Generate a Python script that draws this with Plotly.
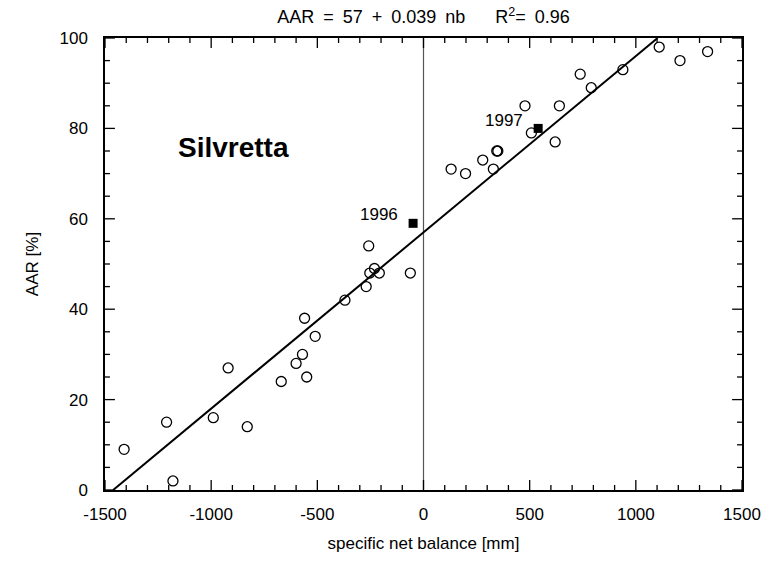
import plotly.graph_objects as go

# Observed data (specific net balance [mm], AAR [%])
balance = [-1410, -1210, -1180, -990, -920, -830, -670, -600, -570, -560, -550,
           -510, -370, -270, -253, -231, -208, -62, -258,
           130, 198, 279, 329, 345, 350, 478, 508, 620, 640, 738, 790, 939,
           1110, 1208, 1338]
aar = [9, 15, 2, 16, 27, 14, 24, 28, 30, 38, 25,
       34, 42, 45, 48, 49, 48, 48, 54,
       71, 70, 73, 71, 75, 75, 85, 79, 77, 85, 92, 89, 93,
       98, 95, 97]

# Highlighted years
year_labels = ["1996", "1997"]
year_balance = [-49, 540]
year_aar = [59, 80]

# Regression
intercept = 57
slope = 0.039
fit_aar = [0, 100]
fit_balance = [(a - intercept) / slope for a in fit_aar]

# Axis ranges and tick labels
x_range = [-1500, 1500]
y_range = [0, 100]
x_tickvals = [-1500, -1000, -500, 0, 500, 1000, 1500]
x_ticktext = ["-1500", "-1000", "-500", "0", "500", "1000", "1500"]
y_tickvals = [0, 20, 40, 60, 80, 100]
y_ticktext = ["0", "20", "40", "60", "80", "100"]
x_minor_step = 100
y_minor_step = 5

font_family = "Liberation Sans, Arial, sans-serif"

W, H = 773, 562
margin = dict(l=105, r=25, t=38, b=71)
plot_w = W - margin["l"] - margin["r"]
plot_h = H - margin["t"] - margin["b"]

fig = go.Figure()

fig.add_trace(go.Scatter(
    x=[0, 0], y=y_range, mode="lines",
    line=dict(color="#555555", width=1.2), showlegend=False, hoverinfo="skip"))

fig.add_trace(go.Scatter(
    x=fit_balance, y=fit_aar, mode="lines",
    line=dict(color="black", width=2), showlegend=False))

fig.add_trace(go.Scatter(
    x=balance, y=aar, mode="markers",
    marker=dict(symbol="circle-open", size=10, color="black",
                line=dict(color="black", width=1.3)),
    showlegend=False))

fig.add_trace(go.Scatter(
    x=year_balance, y=year_aar, mode="markers",
    marker=dict(symbol="square", size=9, color="black"),
    showlegend=False))

# Inward tick marks on all four sides, one trace per tick built from the tick arrays
x_span = x_range[1] - x_range[0]
y_span = y_range[1] - y_range[0]
x_minor = [v for v in range(x_range[0], x_range[1] + 1, x_minor_step) if v not in x_tickvals]
y_minor = [v for v in range(y_range[0], y_range[1] + 1, y_minor_step) if v not in y_tickvals]
tick_style = dict(mode="lines", line=dict(color="black", width=1.3),
                  showlegend=False, hoverinfo="skip", cliponaxis=False)
for vals, ln in ((x_tickvals, 10), (x_minor, 5)):
    d = ln * y_span / plot_h
    for v in vals:
        fig.add_trace(go.Scatter(x=[v, v], y=[y_range[0], y_range[0] + d], **tick_style))
        fig.add_trace(go.Scatter(x=[v, v], y=[y_range[1], y_range[1] - d], **tick_style))
for vals, ln in ((y_tickvals, 10), (y_minor, 5)):
    d = ln * x_span / plot_w
    for v in vals:
        fig.add_trace(go.Scatter(x=[x_range[0], x_range[0] + d], y=[v, v], **tick_style))
        fig.add_trace(go.Scatter(x=[x_range[1], x_range[1] - d], y=[v, v], **tick_style))

label_pos = [(-209, 61.0), (379, 81.8)]
for txt, (lx, ly) in zip(year_labels, label_pos):
    fig.add_annotation(x=lx, y=ly, text=txt, showarrow=False,
                       font=dict(size=17, color="black", family=font_family),
                       xanchor="center", yanchor="middle")

fig.add_annotation(x=-895, y=75.7, text="<b>Silvretta</b>", showarrow=False,
                   font=dict(size=28, color="black", family=font_family),
                   xanchor="center", yanchor="middle")

main_common = dict(
    showline=True, linecolor="black", linewidth=1.5, mirror=True,
    ticks="", showgrid=False, zeroline=False,
    tickfont=dict(size=17, color="black", family=font_family),
)

sp = "\u2002"
title_text = ("AAR" + sp + "=" + sp + "57" + sp + "+" + sp + "0.039" + sp + "nb"
              + "\u00a0" * 6 + "R<sup>2</sup>=" + sp + "0.96")

fig.update_layout(
    width=W, height=H,
    margin=dict(margin, pad=0),
    paper_bgcolor="white", plot_bgcolor="white",
    xaxis=dict(range=x_range, tickmode="array", tickvals=x_tickvals,
               ticktext=x_ticktext, ticklabelstandoff=8,
               title=dict(text="specific net balance [mm]", standoff=14,
                          font=dict(size=17, color="black", family=font_family)),
               **main_common),
    yaxis=dict(range=y_range, tickmode="array", tickvals=y_tickvals,
               ticktext=y_ticktext, ticklabelstandoff=12,
               title=dict(text="AAR [%]", standoff=17,
                          font=dict(size=17, color="black", family=font_family)),
               **main_common),
    title=dict(text=title_text,
               x=0.5, xref="paper", xanchor="center",
               y=(H - 17) / H, yanchor="middle",
               font=dict(size=18, color="black", family=font_family)),
    font=dict(family=font_family, color="black"),
)

fig.write_html("out.html")
